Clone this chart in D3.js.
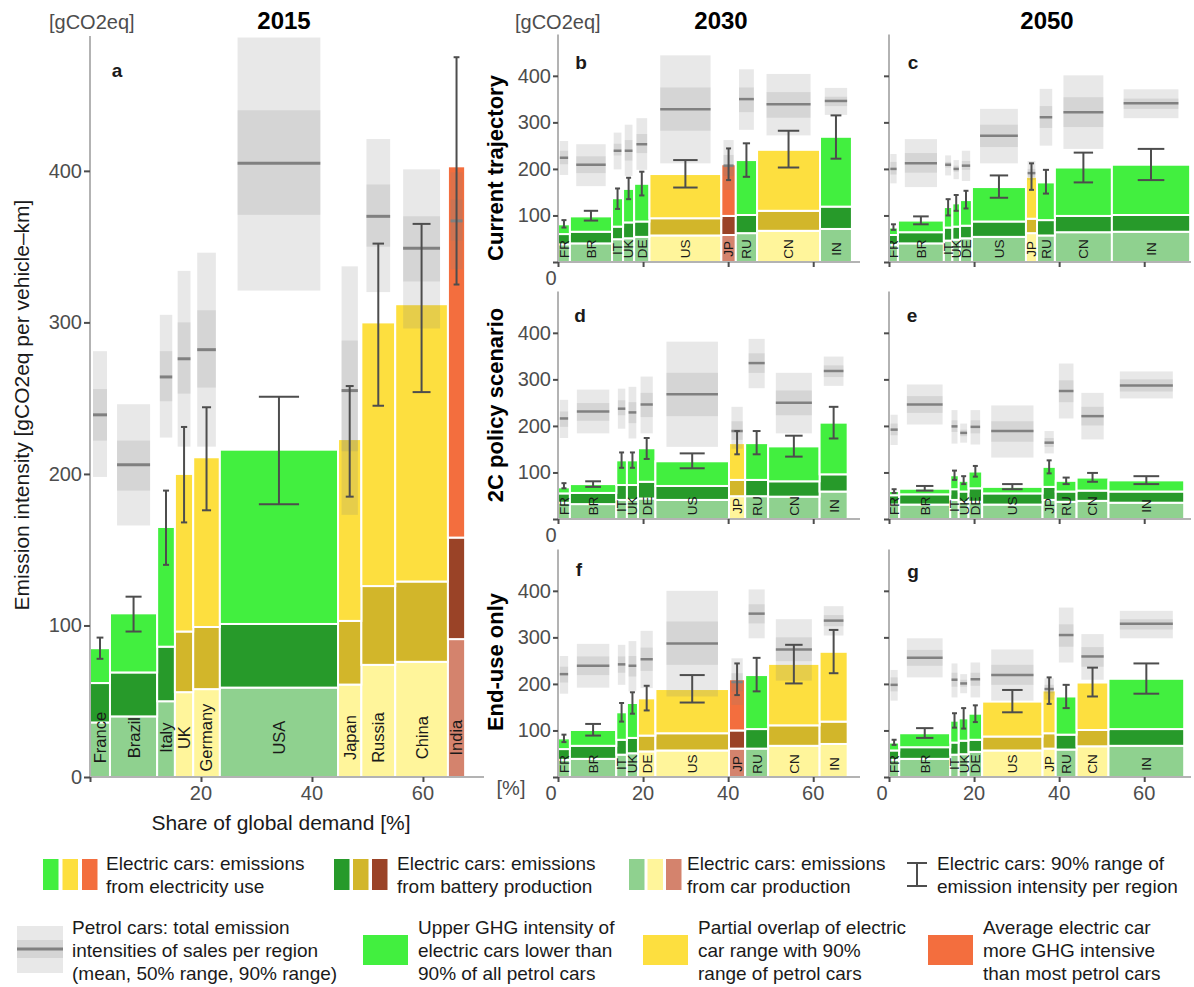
<!DOCTYPE html>
<html>
<head>
<meta charset="utf-8">
<script src="https://cdn.jsdelivr.net/npm/d3@7"></script>
<style>
  body { margin: 0; background: #fff; }
  svg { font-family: "Liberation Sans", Arial, Helvetica, sans-serif; }
</style>
</head>
<body>
<div id="chart"></div>
<script>
// regions, in the order they are stacked along the x axis
const regions = ['France', 'Brazil', 'Italy', 'UK', 'Germany', 'USA', 'Japan', 'Russia', 'China', 'India'];
const codes = ['FR', 'BR', 'IT', 'UK', 'DE', 'US', 'JP', 'RU', 'CN', 'IN'];

// share of global demand [%]
const share2015 = [3.6, 8.5, 3.2, 3.3, 4.8, 21.3, 4.2, 6.1, 9.5, 3.1];
const shareCT2030 = [2.8, 9.9, 2.6, 2.6, 3.6, 16.9, 3.4, 5.0, 14.8, 7.5];
const shareCT2050 = [2.1, 10.8, 2.0, 1.8, 2.8, 12.7, 2.6, 4.2, 13.4, 18.4];
const share2C2030 = [2.8, 10.9, 2.5, 2.6, 4.1, 17.3, 3.8, 5.4, 12.1, 6.6];
const share2C2050 = [2.4, 12.0, 2.0, 2.3, 3.2, 14.2, 3.1, 4.9, 7.5, 17.8];

// a: 2015
const carA = [36, 40, 50, 56, 58, 59, 61, 74, 76, 91];
const batA = [26, 29, 36, 40, 41, 42, 42, 52, 53, 67];
const elecA = [23, 39, 79, 104, 112, 115, 120, 174, 183, 245];
const errLoA = [78, 96, 140, 168, 176, 180, 185, 245, 254, 325];
const errHiA = [92, 119, 189, 231, 244, 251, 258, 352, 365, 475];
const p05A = [198, 166, 224, 218, 218, 321, 173, 320, 296, 335];
const p25A = [222, 189, 248, 253, 257, 371, 215, 350, 327, 354];
const meanA = [239, 206, 264, 276, 282, 405, 255, 370, 349, 367];
const p75A = [256, 222, 281, 300, 308, 440, 288, 391, 370, 381];
const p95A = [281, 246, 305, 334, 346, 488, 337, 421, 401, 399];
const rateA = ['g', 'g', 'g', 'y', 'y', 'g', 'y', 'y', 'y', 'o'];

// b: 2030, current trajectory
const carB = [38, 40, 49, 51, 54, 57, 58, 62, 67, 71];
const batB = [22, 25, 27, 34, 33, 37, 41, 39, 43, 48];
const elecB = [21, 33, 61, 72, 81, 95, 111, 118, 131, 150];
const errLoB = [74, 89, 114, 135, 143, 160, 176, 183, 203, 222];
const errHiB = [90, 110, 158, 181, 194, 219, 244, 255, 282, 315];
const p05B = [187, 163, 199, 185, 198, 212, 155, 284, 272, 316];
const p25B = [210, 191, 229, 218, 234, 282, 185, 322, 310, 335];
const meanB = [224, 209, 239, 239, 253, 328, 207, 350, 339, 346];
const p75B = [239, 227, 254, 262, 275, 375, 230, 375, 365, 355];
const p95B = [260, 253, 278, 295, 309, 444, 262, 414, 404, 374];
const rateB = ['g', 'g', 'g', 'g', 'g', 'y', 'o', 'g', 'y', 'g'];

// c: 2050, current trajectory
const carC = [37, 40, 46, 48, 51, 54, 62, 57, 64, 65];
const batC = [21, 24, 28, 28, 27, 33, 31, 33, 35, 36];
const elecC = [16, 25, 44, 50, 55, 74, 90, 81, 104, 108];
const errLoC = [69, 81, 100, 110, 115, 138, 155, 147, 171, 176];
const errHiC = [81, 98, 135, 144, 153, 186, 212, 198, 235, 243];
const p05C = [169, 161, 186, 178, 174, 212, 176, 250, 243, 309];
const p25C = [188, 192, 203, 194, 198, 247, 183, 288, 290, 329];
const meanC = [200, 212, 209, 200, 207, 271, 191, 311, 322, 341];
const p75C = [215, 234, 215, 207, 217, 295, 200, 335, 354, 351];
const p95C = [232, 264, 229, 219, 239, 329, 217, 372, 401, 371];
const rateC = ['g', 'g', 'g', 'g', 'g', 'g', 'y', 'g', 'g', 'g'];

// d: 2030, 2C policy scenario
const carD = [35, 32, 41, 41, 44, 41, 49, 49, 48, 59];
const batD = [20, 24, 32, 32, 36, 30, 35, 35, 33, 37];
const elecD = [13, 19, 53, 53, 72, 53, 79, 79, 75, 111];
const errLoD = [66, 69, 110, 110, 129, 109, 139, 139, 134, 173];
const errHiD = [77, 81, 143, 143, 174, 141, 189, 189, 179, 241];
const p05D = [174, 184, 194, 173, 184, 155, 151, 281, 184, 286];
const p25D = [198, 211, 223, 206, 219, 221, 170, 314, 223, 305];
const meanD = [216, 231, 237, 229, 246, 268, 189, 335, 250, 318];
const p75D = [231, 249, 255, 251, 271, 314, 210, 356, 276, 330];
const p95D = [256, 278, 280, 284, 306, 381, 241, 387, 314, 349];
const rateD = ['g', 'g', 'g', 'g', 'g', 'g', 'y', 'g', 'g', 'g'];

// e: 2050, 2C policy scenario
const carE = [31, 31, 41, 37, 37, 31, 41, 37, 39, 35];
const batE = [20, 22, 23, 22, 29, 24, 28, 22, 22, 24];
const elecE = [9, 12, 30, 23, 36, 14, 43, 23, 28, 24];
const errLoE = [56, 61, 84, 75, 91, 64, 98, 75, 80, 75];
const errHiE = [64, 71, 104, 92, 114, 75, 126, 89, 99, 92];
const p05E = [159, 203, 162, 164, 160, 132, 141, 216, 171, 259];
const p25E = [180, 228, 187, 178, 184, 166, 155, 251, 201, 274];
const meanE = [192, 246, 199, 185, 198, 189, 164, 275, 221, 287];
const p75E = [205, 264, 212, 192, 212, 210, 174, 298, 241, 300];
const p95E = [224, 289, 234, 205, 234, 244, 189, 334, 271, 317];
const rateE = ['g', 'g', 'g', 'g', 'g', 'g', 'g', 'g', 'g', 'g'];

// f: 2030, end-use only
const carF = [37, 39, 48, 51, 55, 57, 61, 61, 67, 71];
const batF = [23, 28, 32, 33, 34, 37, 39, 42, 44, 48];
const elecF = [23, 34, 59, 75, 80, 95, 110, 116, 132, 150];
const errLoF = [75, 89, 119, 136, 143, 160, 176, 184, 201, 223];
const errHiF = [91, 114, 159, 182, 196, 219, 244, 256, 284, 316];
const p05F = [179, 192, 198, 184, 191, 173, 155, 298, 207, 304];
const p25F = [203, 219, 224, 216, 228, 241, 184, 330, 249, 324];
const meanF = [221, 239, 242, 239, 253, 287, 204, 351, 274, 336];
const p75F = [237, 259, 259, 260, 278, 334, 223, 371, 300, 348];
const p95F = [260, 286, 284, 292, 314, 400, 255, 403, 339, 367];
const rateF = ['g', 'g', 'g', 'g', 'y', 'y', 'o', 'g', 'y', 'y'];

// g: 2050, end-use only
const carG = [37, 39, 48, 49, 54, 57, 61, 59, 66, 67];
const batG = [20, 25, 26, 29, 26, 30, 33, 32, 35, 36];
const elecG = [17, 30, 47, 48, 56, 75, 92, 82, 102, 108];
const errLoG = [69, 84, 106, 104, 118, 139, 157, 148, 173, 179];
const errHiG = [80, 105, 137, 148, 154, 187, 214, 198, 235, 244];
const p05G = [164, 214, 171, 180, 171, 164, 166, 246, 209, 298];
const p25G = [184, 239, 194, 194, 196, 198, 180, 280, 237, 317];
const meanG = [198, 256, 209, 201, 210, 219, 189, 305, 259, 329];
const p75G = [214, 273, 224, 209, 224, 241, 198, 328, 279, 339];
const p95G = [230, 298, 244, 221, 246, 274, 212, 364, 307, 357];
const rateG = ['g', 'g', 'g', 'g', 'g', 'y', 'y', 'g', 'y', 'g'];

const yTicks = [0, 100, 200, 300, 400];
const xTicks = [0, 20, 40, 60];

const fills = {
  g: ['#8fd18f', '#279a2a', '#42ef3f'],
  y: ['#fff59b', '#d2b62a', '#fddf3f'],
  o: ['#d4836d', '#9a4327', '#f36e3e']
};

const svg = d3.select('#chart')
  .append('svg')
  .attr('width', 1194)
  .attr('height', 987);

function drawPanel(p, box, opt) {
  const x = d3.scaleLinear().domain([0, 71]).range([box.x0, box.x1]);
  const y = d3.scaleLinear().domain([0, 489]).range([box.yb, box.yt]);
  const g = svg.append('g');

  const ends = d3.cumsum(p.share);
  const rows = regions.map((r, i) => ({
    i: i,
    start: ends[i] - p.share[i],
    end: ends[i],
    car: p.car[i],
    bat: p.bat[i],
    elec: p.elec[i]
  }));
  const layers = d3.stack().keys(['car', 'bat', 'elec'])(rows);

  layers.forEach((layer, k) => {
    g.selectAll(null)
      .data(layer)
      .enter()
      .append('rect')
      .attr('x', d => x(d.data.start))
      .attr('width', d => x(d.data.end) - x(d.data.start))
      .attr('y', d => y(d[1]))
      .attr('height', d => y(d[0]) - y(d[1]))
      .attr('fill', d => fills[p.rate[d.data.i]][k])
      .attr('stroke', '#fff')
      .attr('stroke-width', 2);
  });

  const cx = d => (x(d.start) + x(d.end)) / 2;
  const bw = d => x(d.end) - x(d.start);

  // region names inside the car production block
  g.selectAll(null)
    .data(rows)
    .enter()
    .append('text')
    .text(d => opt.names[d.i])
    .attr('font-size', opt.labelSize)
    .attr('text-anchor', 'middle')
    .attr('dy', '0.36em')
    .attr('fill', '#1a1a1a')
    .each(function(d) {
      const len = this.getComputedTextLength();
      const cy = Math.min(y(opt.labelAt), box.yb - len / 2 - 2);
      d3.select(this).attr('transform', `translate(${cx(d)},${cy}) rotate(-90)`);
    });

  // petrol cars: 90% range, 50% range, mean
  const pw = d => bw(d) * 0.7;
  g.selectAll(null)
    .data(rows)
    .enter()
    .append('rect')
    .attr('x', d => cx(d) - pw(d) / 2)
    .attr('width', pw)
    .attr('y', d => y(p.p95[d.i]))
    .attr('height', d => y(p.p05[d.i]) - y(p.p95[d.i]))
    .attr('fill', '#808080')
    .attr('fill-opacity', 0.18);
  g.selectAll(null)
    .data(rows)
    .enter()
    .append('rect')
    .attr('x', d => cx(d) - pw(d) / 2)
    .attr('width', pw)
    .attr('y', d => y(p.p75[d.i]))
    .attr('height', d => y(p.p25[d.i]) - y(p.p75[d.i]))
    .attr('fill', '#808080')
    .attr('fill-opacity', 0.18);
  g.selectAll(null)
    .data(rows)
    .enter()
    .append('line')
    .attr('x1', d => cx(d) - pw(d) / 2)
    .attr('x2', d => cx(d) + pw(d) / 2)
    .attr('y1', d => y(p.mean[d.i]))
    .attr('y2', d => y(p.mean[d.i]))
    .attr('stroke', '#808080')
    .attr('stroke-width', opt.meanWidth);

  // electric cars: 90% range
  const cap = d => Math.max(5, bw(d) * 0.34) / 2;
  const eb = g.selectAll(null)
    .data(rows)
    .enter()
    .append('g')
    .attr('stroke', '#4d4d4d')
    .attr('stroke-width', 2);
  eb.append('line')
    .attr('x1', cx).attr('x2', cx)
    .attr('y1', d => y(p.lo[d.i]))
    .attr('y2', d => y(p.hi[d.i]));
  eb.append('line')
    .attr('x1', d => cx(d) - cap(d)).attr('x2', d => cx(d) + cap(d))
    .attr('y1', d => y(p.hi[d.i])).attr('y2', d => y(p.hi[d.i]));
  eb.append('line')
    .attr('x1', d => cx(d) - cap(d)).attr('x2', d => cx(d) + cap(d))
    .attr('y1', d => y(p.lo[d.i])).attr('y2', d => y(p.lo[d.i]));

  // axes
  g.append('line')
    .attr('x1', box.x0).attr('x2', box.x0)
    .attr('y1', box.yt).attr('y2', box.yb)
    .attr('stroke', '#b3b3b3').attr('stroke-width', 2);
  g.append('line')
    .attr('x1', box.x0).attr('x2', box.x1)
    .attr('y1', box.yb).attr('y2', box.yb)
    .attr('stroke', '#b3b3b3').attr('stroke-width', 2);

  const yAxis = g.append('g')
    .attr('transform', `translate(${box.x0},0)`)
    .call(d3.axisLeft(y)
      .tickValues(yTicks)
      .tickSize(opt.tickY)
      .tickPadding(2)
      .tickFormat(opt.yFmt));
  const xAxis = g.append('g')
    .attr('transform', `translate(0,${box.yb})`)
    .call(d3.axisBottom(x).tickValues(xTicks).tickSize(5).tickFormat(''));
  [yAxis, xAxis].forEach(ax => {
    ax.attr('font-family', null).attr('font-size', 20);
    ax.select('.domain').remove();
    ax.selectAll('.tick line').attr('stroke', '#4d4d4d').attr('stroke-width', 2);
    ax.selectAll('.tick text').attr('fill', '#4d4d4d');
  });

  g.selectAll(null)
    .data(opt.xLabels)
    .enter()
    .append('text')
    .text(d => d)
    .attr('x', d => x(d) + (d === 0 ? -7 : 0))
    .attr('y', box.yb + 23)
    .attr('text-anchor', 'middle')
    .attr('font-size', 20)
    .attr('fill', '#4d4d4d');

  g.append('text')
    .text(opt.letter)
    .attr('x', opt.letterPos[0])
    .attr('y', opt.letterPos[1] + 7)
    .attr('text-anchor', 'middle')
    .attr('font-size', 19)
    .attr('font-weight', 'bold')
    .attr('fill', '#1a1a1a');
}

function panelData(share, car, bat, elec, lo, hi, p05, p25, mean, p75, p95, rate) {
  return { share, car, bat, elec, lo, hi, p05, p25, mean, p75, p95, rate };
}

const smallW = 302;
const colX = [558, 889];
const rowB = [262, 519, 777];

drawPanel(
  panelData(share2015, carA, batA, elecA, errLoA, errHiA, p05A, p25A, meanA, p75A, p95A, rateA),
  { x0: 90, x1: 484, yb: 777, yt: 36 },
  { names: regions, labelSize: 16.5, labelAt: 26, meanWidth: 3, tickY: 6,
    yFmt: d => d, xLabels: [20, 40, 60], letter: 'a', letterPos: [117, 70] }
);

const small = [
  [panelData(shareCT2030, carB, batB, elecB, errLoB, errHiB, p05B, p25B, meanB, p75B, p95B, rateB), 0, 0, 'b', [581, 62]],
  [panelData(shareCT2050, carC, batC, elecC, errLoC, errHiC, p05C, p25C, meanC, p75C, p95C, rateC), 1, 0, 'c', [913, 62]],
  [panelData(share2C2030, carD, batD, elecD, errLoD, errHiD, p05D, p25D, meanD, p75D, p95D, rateD), 0, 1, 'd', [580, 315]],
  [panelData(share2C2050, carE, batE, elecE, errLoE, errHiE, p05E, p25E, meanE, p75E, p95E, rateE), 1, 1, 'e', [912, 315]],
  [panelData(share2C2030, carF, batF, elecF, errLoF, errHiF, p05F, p25F, meanF, p75F, p95F, rateF), 0, 2, 'f', [579, 569]],
  [panelData(share2C2050, carG, batG, elecG, errLoG, errHiG, p05G, p25G, meanG, p75G, p95G, rateG), 1, 2, 'g', [913, 571]]
];

small.forEach(([p, col, row, letter, pos]) => {
  const yb = rowB[row];
  let xLabels = [];
  if (row === 2) xLabels = xTicks;
  else if (col === 0) xLabels = [0];
  drawPanel(p,
    { x0: colX[col], x1: colX[col] + smallW, yb: yb, yt: yb - 227.6 },
    { names: codes, labelSize: 13.5, labelAt: 28, meanWidth: 2.5, tickY: 5,
      yFmt: d => (col === 0 && d > 0 ? d : ''), xLabels: xLabels, letter: letter, letterPos: pos }
  );
});

// titles and axis names
const titles = [['2015', 284], ['2030', 721], ['2050', 1047]];
svg.selectAll(null)
  .data(titles)
  .enter()
  .append('text')
  .text(d => d[0])
  .attr('x', d => d[1])
  .attr('y', 29)
  .attr('text-anchor', 'middle')
  .attr('font-size', 24)
  .attr('font-weight', 'bold')
  .attr('fill', '#000');

[49, 515].forEach(xx => {
  svg.append('text')
    .text('[gCO2eq]')
    .attr('x', xx)
    .attr('y', 29)
    .attr('font-size', 20)
    .attr('fill', '#4d4d4d');
});

svg.append('text')
  .text('[%]')
  .attr('x', 511)
  .attr('y', 795)
  .attr('text-anchor', 'middle')
  .attr('font-size', 20)
  .attr('fill', '#4d4d4d');

svg.append('text')
  .text('Emission intensity [gCO2eq per vehicle\u2013km]')
  .attr('transform', 'translate(22,405) rotate(-90)')
  .attr('dy', '0.35em')
  .attr('text-anchor', 'middle')
  .attr('font-size', 21)
  .attr('fill', '#1a1a1a');

svg.append('text')
  .text('Share of global demand [%]')
  .attr('x', 281)
  .attr('y', 830)
  .attr('text-anchor', 'middle')
  .attr('font-size', 21)
  .attr('fill', '#1a1a1a');

const rowTitles = [['Current trajectory', 168], ['2C policy scenario', 405], ['End-use only', 662]];
svg.selectAll(null)
  .data(rowTitles)
  .enter()
  .append('text')
  .text(d => d[0])
  .attr('transform', d => `translate(495,${d[1]}) rotate(-90)`)
  .attr('dy', '0.35em')
  .attr('text-anchor', 'middle')
  .attr('font-size', 22)
  .attr('font-weight', 'bold')
  .attr('fill', '#000');

// legend
const leg = svg.append('g').attr('font-size', 19).attr('fill', '#1a1a1a');

function legText(xx, lines, y0) {
  const t = leg.append('text').attr('x', xx).attr('y', y0);
  lines.forEach((l, i) => {
    t.append('tspan').attr('x', xx).attr('dy', i === 0 ? 0 : 23).text(l);
  });
}

const swatchGroups = [[43, 19.5, 0], [334, 19, 1], [629, 18.5, 2]];
swatchGroups.forEach(([sx, step, k]) => {
  ['g', 'y', 'o'].forEach((r, j) => {
    leg.append('rect')
      .attr('x', sx + j * step)
      .attr('y', 859)
      .attr('width', 15.5)
      .attr('height', 31)
      .attr('fill', fills[r][[2, 1, 0][k]]);
  });
});
legText(106, ['Electric cars: emissions', 'from electricity use'], 869.5);
legText(397, ['Electric cars: emissions', 'from battery production'], 869.5);
legText(687, ['Electric cars: emissions', 'from car production'], 869.5);
legText(937, ['Electric cars: 90% range of', 'emission intensity per region'], 869.5);

const ebl = leg.append('g').attr('stroke', '#4d4d4d').attr('stroke-width', 2);
ebl.append('line').attr('x1', 917).attr('x2', 917).attr('y1', 863).attr('y2', 886);
ebl.append('line').attr('x1', 907).attr('x2', 927).attr('y1', 863).attr('y2', 863);
ebl.append('line').attr('x1', 907).attr('x2', 927).attr('y1', 886).attr('y2', 886);

leg.append('rect').attr('x', 17).attr('y', 926).attr('width', 46).attr('height', 47)
  .attr('fill', '#808080').attr('fill-opacity', 0.18);
leg.append('rect').attr('x', 17).attr('y', 940).attr('width', 46).attr('height', 18)
  .attr('fill', '#808080').attr('fill-opacity', 0.18);
leg.append('line').attr('x1', 17).attr('x2', 63).attr('y1', 949).attr('y2', 949)
  .attr('stroke', '#808080').attr('stroke-width', 3);
legText(72, ['Petrol cars: total emission', 'intensities of sales per region', '(mean, 50% range, 90% range)'], 933.5);

const ratingBoxes = [
  [363, 418, 'g', ['Upper GHG intensity of', 'electric cars lower than', '90% of all petrol cars']],
  [643, 698, 'y', ['Partial overlap of electric', 'car range with 90%', 'range of petrol cars']],
  [928, 983, 'o', ['Average electric car', 'more GHG intensive', 'than most petrol cars']]
];
ratingBoxes.forEach(([bx, tx, r, lines]) => {
  leg.append('rect').attr('x', bx).attr('y', 935).attr('width', 45).attr('height', 30)
    .attr('fill', fills[r][2]);
  legText(tx, lines, 933.5);
});
</script>
</body>
</html>
